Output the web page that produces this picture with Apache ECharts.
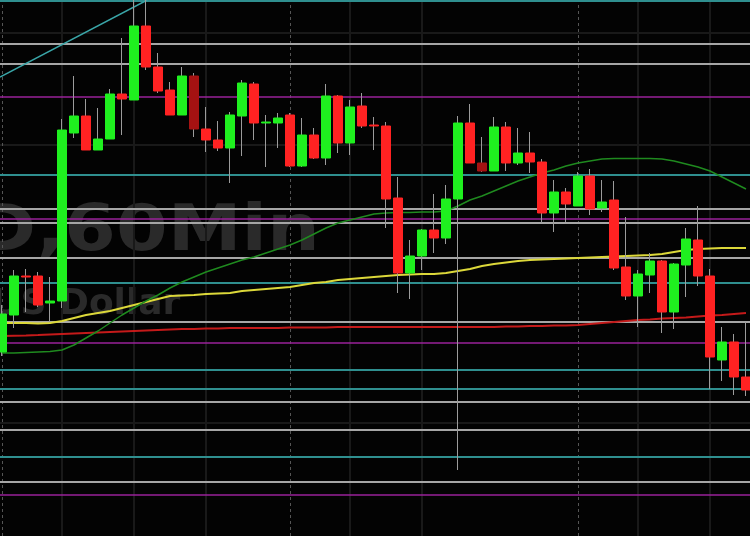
<!DOCTYPE html>
<html><head><meta charset="utf-8">
<script src="https://cdn.jsdelivr.net/npm/echarts@6/dist/echarts.min.js"></script>
<style>html,body{margin:0;padding:0;background:#000;}#c{width:750px;height:536px;}</style>
</head><body><div id="c"></div>
<script>
// hourly candles over three days
const days = ['Mon', 'Tue', 'Wed'];
const candleCount = 63;
const categories = [];
for (let i = 0; i < candleCount; i++) {
  categories.push(days[Math.floor(i / 24)] + ' ' + String(i % 24).padStart(2, '0') + ':00');
}
const opens  = [1648,1685,1724,1724,1697,1699,1867,1884,1850,1861,1906,1900,1974,1933,1910,1885,1924,1871,1860,1852,1884,1916,1877,1877,1885,1834,1865,1842,1904,1857,1894,1875,1874,1802,1727,1744,1770,1762,1801,1877,1837,1829,1873,1837,1847,1838,1787,1808,1794,1824,1792,1800,1733,1704,1725,1739,1688,1735,1760,1724,1640,1658,1623];
const closes = [1686,1724,1723,1695,1699,1870,1884,1850,1861,1906,1901,1974,1933,1909,1885,1924,1871,1860,1852,1885,1917,1877,1878,1882,1834,1865,1842,1904,1857,1893,1874,1874,1801,1727,1744,1770,1762,1801,1877,1837,1829,1873,1837,1847,1838,1787,1808,1796,1824,1791,1798,1732,1704,1726,1739,1688,1736,1761,1724,1643,1658,1623,1610];
const lows   = [1644,1672,1688,1693,1678,1692,1862,1850,1850,1861,1865,1900,1930,1907,1885,1885,1863,1848,1849,1817,1844,1860,1833,1852,1833,1833,1841,1835,1847,1845,1872,1850,1772,1707,1701,1730,1747,1756,1530,1837,1828,1829,1829,1835,1827,1777,1768,1778,1794,1785,1788,1730,1700,1673,1707,1667,1671,1703,1714,1611,1619,1605,1604];
const highs  = [1695,1730,1731,1728,1723,1881,1924,1901,1892,1911,1962,2001,2001,1947,1918,1933,1927,1893,1879,1888,1920,1918,1885,1887,1887,1882,1872,1916,1905,1900,1907,1883,1878,1823,1760,1771,1806,1815,1884,1896,1863,1883,1878,1872,1868,1841,1820,1812,1828,1831,1820,1819,1783,1730,1747,1740,1737,1772,1794,1731,1673,1666,1678];
const darkCandles = [16, 40];

const maYellow = [1677,1677,1677,1676.5,1677,1679,1682,1685,1687,1689,1692,1695,1698,1701,1704,1704.5,1705,1706,1706.5,1707,1709,1710,1711,1712,1713,1715,1717,1718,1720,1721,1722,1723,1724,1725,1725.5,1726,1726,1727,1729,1731,1734,1736,1737.5,1739,1740,1740.5,1741,1741.5,1742,1742.5,1743,1743.5,1744,1744.5,1745,1746,1748,1750,1751,1751.5,1752,1752,1752];
const maRed = [1664,1664.3,1664.6,1665,1665.5,1666,1666.5,1667,1667.5,1668,1668.5,1669,1669.5,1670,1670.5,1671,1671,1671.5,1671.5,1672,1672,1672,1672,1672,1672.5,1672.5,1672.5,1672.5,1673,1673,1673,1673,1673,1673,1673,1673,1673,1673,1673,1673,1673,1673,1673.5,1673.5,1674,1674,1674.5,1674.5,1675,1676,1677,1678,1679,1680,1680.5,1681.5,1682,1682.5,1683.5,1684.5,1685,1686,1687];
const maGreen = [1647,1647,1647.5,1648,1648.5,1650,1655,1662,1669,1677,1685,1692,1699,1705,1712,1718,1723,1728,1732,1736,1740,1743,1747,1751,1755,1760,1766,1772,1777,1780,1783,1786,1787,1787.5,1787.5,1788,1788,1789,1794,1800,1804,1809,1814,1819,1823,1827,1830,1834,1837,1839,1841,1841.5,1841.5,1841.5,1841.5,1841,1839,1836,1833,1829,1823,1817,1811];

const tealLevels = [1999, 1825, 1717, 1630, 1611, 1543];
const grayLevels = [1956, 1936, 1791, 1777, 1742, 1678, 1598, 1570, 1518];
const magentaLevels = [1903, 1781, 1657, 1505];
const gridLevels = [1967, 1855, 1577];
const dayBreaks = [0, 24, 48];
const hourGrid = [5, 11, 17, 29, 35, 53, 59];
const trendLine = [[-0.17, 1923], [12.1, 2000]];

const priceMin = 1464, priceMax = 2000;

const COL = {
  up: '#1ff01f', down: '#ff2222', dark: '#a51212', wick: '#9c9c9c',
  teal: '#2f8f8f', gray: '#a6a6a6', magenta: '#9a229a', faint: '#191919'
};

const wickData = opens.map((o, i) => [o, closes[i], lows[i], highs[i]]);
const bodyData = opens.map((o, i) => {
  const v = [o, closes[i], Math.min(o, closes[i]), Math.max(o, closes[i])];
  if (darkCandles.includes(i)) {
    return { value: v, itemStyle: { color0: COL.dark, borderColor0: COL.dark } };
  }
  return v;
});

const levelLines = [];
gridLevels.forEach(v => levelLines.push({ yAxis: v, lineStyle: { color: COL.faint, width: 2, type: 'solid' } }));
hourGrid.forEach(k => levelLines.push({ xAxis: categories[k], lineStyle: { color: COL.faint, width: 2, type: 'solid' } }));
dayBreaks.forEach(k => levelLines.push({ xAxis: categories[k], lineStyle: { color: '#555555', width: 1, type: [3, 3] } }));
tealLevels.forEach(v => levelLines.push({ yAxis: v, lineStyle: { color: COL.teal, width: 2, type: 'solid' } }));
grayLevels.forEach(v => levelLines.push({ yAxis: v, lineStyle: { color: COL.gray, width: 2, type: 'solid' } }));
magentaLevels.forEach(v => levelLines.push({ yAxis: v, lineStyle: { color: COL.magenta, width: 1.5, type: 'solid' } }));

const chart = echarts.init(document.getElementById('c'));
chart.setOption({
  animation: false,
  backgroundColor: '#030303',
  grid: { left: -4, right: -2, top: 0, bottom: 0, containLabel: false, outerBoundsMode: 'none' },
  xAxis: [
    { type: 'category', data: categories, boundaryGap: true, show: false },
    { type: 'value', min: -0.5, max: candleCount - 0.5, show: false }
  ],
  yAxis: { type: 'value', min: priceMin, max: priceMax, show: false, scale: true },
  graphic: {
    elements: [
      { type: 'text', x: -25.5, y: 233.5, scaleX: 1.16, z: -10, silent: true,
        style: { text: 'D,60Min', fill: '#2a2a2a', font: 'bold 64px "DejaVu Sans"', verticalAlign: 'middle', textVerticalAlign: 'middle' } },
      { type: 'text', x: -8.7, y: 305, z: -10, silent: true,
        style: { text: 'US Dollar', fill: '#2a2a2a', font: 'bold 36px "DejaVu Sans"', verticalAlign: 'middle', textVerticalAlign: 'middle' } }
    ]
  },
  series: [
    { type: 'line', data: [], z: 1, silent: true,
      markLine: { z: 1, symbol: 'none', silent: true, label: { show: false }, emphasis: { disabled: true }, data: levelLines } },
    { type: 'line', xAxisIndex: 1, data: trendLine, z: 1, symbol: 'none', silent: true,
      lineStyle: { color: '#3aa6a8', width: 1.5 } },
    { type: 'line', data: maRed, z: 2, symbol: 'none', silent: true, lineStyle: { color: '#c41a1a', width: 2 } },
    { type: 'line', data: maYellow, z: 2, symbol: 'none', silent: true, lineStyle: { color: '#dcd83a', width: 2 } },
    { type: 'line', data: maGreen, z: 2, symbol: 'none', silent: true, lineStyle: { color: '#1f8a1f', width: 1.5 } },
    { type: 'candlestick', data: wickData, z: 3, barWidth: 1, silent: true,
      itemStyle: { color: COL.wick, color0: COL.wick, borderColor: COL.wick, borderColor0: COL.wick, borderWidth: 1 } },
    { type: 'candlestick', data: bodyData, z: 4, barWidth: 9, silent: true,
      itemStyle: { color: COL.up, color0: COL.down, borderColor: COL.up, borderColor0: COL.down, borderWidth: 1 } }
  ]
});
</script>
</body></html>
